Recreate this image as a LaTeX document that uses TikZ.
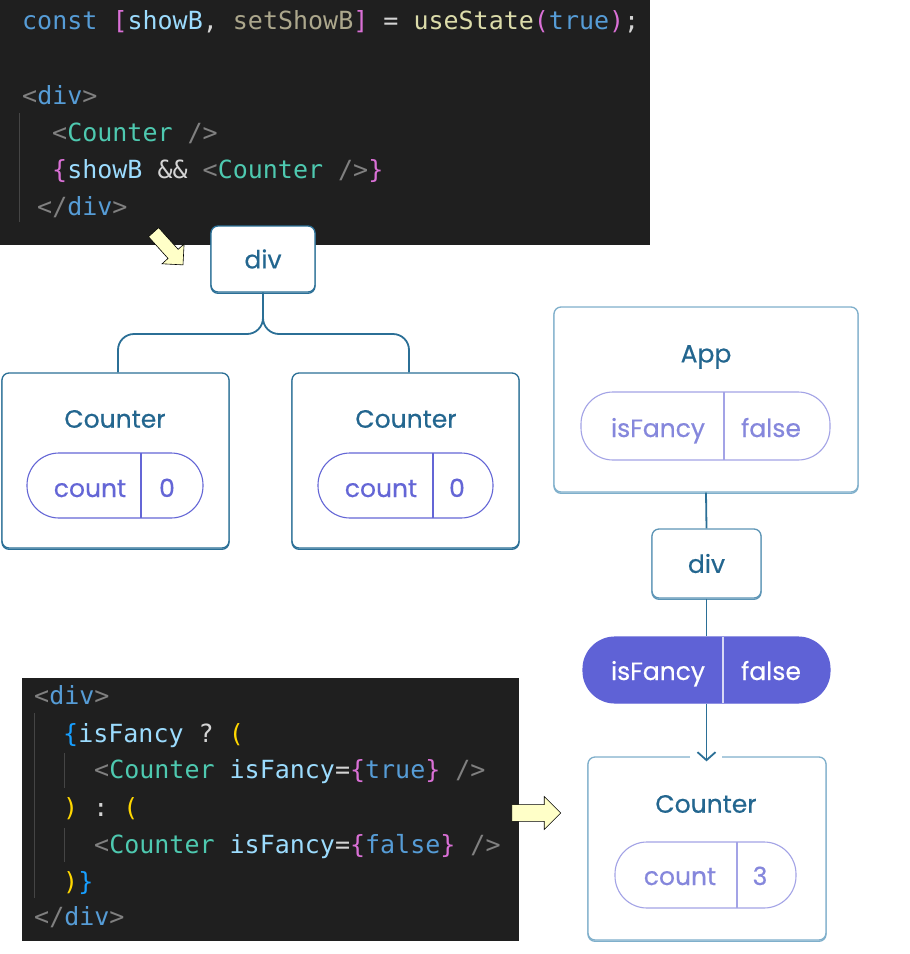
\documentclass[tikz,border=0pt]{standalone}
\usepackage{fontspec}
\setmainfont{Poppins}
\setmonofont{DejaVu Sans Mono}
\newfontfamily\diagfont{Poppins}[FakeBold=0.5]
\usetikzlibrary{arrows.meta,positioning,shapes.arrows}

\definecolor{codebg}{HTML}{1F1F1F}
\definecolor{guide}{HTML}{454545}
\definecolor{plain}{HTML}{D4D4D4}
\definecolor{kwblue}{HTML}{569CD6}
\definecolor{varblue}{HTML}{9CDCFE}
\definecolor{dimvar}{HTML}{ACA78C}
\definecolor{orchid}{HTML}{DA70D6}
\definecolor{gold}{HTML}{FFD700}
\definecolor{brblue}{HTML}{179FFF}
\definecolor{tagteal}{HTML}{4EC9B0}
\definecolor{fnyellow}{HTML}{DCDCAA}
\definecolor{punct}{HTML}{808080}
\definecolor{hint}{HTML}{FFFFC8}
\definecolor{boxblue}{HTML}{2B6F96}
\definecolor{boxpale}{HTML}{7FAFCB}
\definecolor{boxtext}{HTML}{23668F}
\definecolor{pillpurple}{HTML}{6466D6}
\definecolor{pillpale}{HTML}{A3A3E6}
\definecolor{pilltextpale}{HTML}{8587DC}
\definecolor{pillfill}{HTML}{5F62D6}

\newcommand\tk[2]{\textcolor{#1}{#2}}

\begin{document}
\begin{tikzpicture}[x=1pt,y=-1pt,
  codeline/.style={anchor=west,inner sep=0pt,text height=18pt,text depth=5pt,
    font=\ttfamily\fontsize{25}{30}\selectfont,text=plain},
  comp/.style={draw=#1,fill=white,line width=1.3pt,rounded corners=7pt,inner sep=0pt,
    preaction={draw=#1,line width=1.3pt,transform canvas={yshift=-1.3pt}}},
  comp/.default=boxblue,
  title/.style={text=boxtext,font=\diagfont\fontsize{25}{30}\selectfont,inner sep=0pt},
  pill/.style={draw=#1,line width=1.1pt,rounded corners=32pt,inner sep=0pt},
  pill/.default=pillpurple,
  pilltext/.style={text=#1,font=\diagfont\fontsize{25}{30}\selectfont,inner sep=0pt,
    text height=18pt,text depth=6pt},
  pilltext/.default=pillpurple,
  wire/.style={draw=boxblue,line width=1.8pt},
  hintarrow/.style={shape=single arrow,draw=black,fill=hint,line width=0.6pt,
    inner sep=0pt,single arrow head extend=8pt}]
\useasboundingbox (0,0) rectangle (910,954);

% top code panel
\fill[codebg] (0,0) rectangle (650,245);
\draw[guide,line width=1pt] (19,113) -- (19,222);
\node[codeline] (topA) at (22,23) {\tk{kwblue}{const} \tk{orchid}{[}\tk{varblue}{showB}, \tk{dimvar}{setShowB}\tk{orchid}{]} = \tk{fnyellow}{useState}\tk{orchid}{(}\tk{kwblue}{true}\tk{orchid}{)};};
\node[codeline] (topB) at (22,98) {\tk{punct}{<}\tk{kwblue}{div}\tk{punct}{>}};
\node[codeline] (topC) at (52,135) {\tk{punct}{<}\tk{tagteal}{Counter} \tk{punct}{/>}};
\node[codeline] (topD) at (52,172) {\tk{orchid}{\{}\tk{varblue}{showB} \&\& \tk{punct}{<}\tk{tagteal}{Counter} \tk{punct}{/>}\tk{orchid}{\}}};
\node[codeline] (topE) at (37,209) {\tk{punct}{</}\tk{kwblue}{div}\tk{punct}{>}};

% bottom code panel
\fill[codebg] (22,678) rectangle (519,941);
\draw[guide,line width=1pt] (34,713) -- (34,898);
\draw[guide,line width=1pt] (64,753) -- (64,788);
\draw[guide,line width=1pt] (64,828) -- (64,862);
\node[codeline] (botA) at (34,698) {\tk{punct}{<}\tk{kwblue}{div}\tk{punct}{>}};
\node[codeline] (botB) at (63,736) {\tk{brblue}{\{}\tk{varblue}{isFancy} ? \tk{gold}{(}};
\node[codeline] (botC) at (94,772) {\tk{punct}{<}\tk{tagteal}{Counter} \tk{varblue}{isFancy}=\tk{orchid}{\{}\tk{kwblue}{true}\tk{orchid}{\}} \tk{punct}{/>}};
\node[codeline] (botD) at (63,810) {\tk{gold}{)} : \tk{gold}{(}};
\node[codeline] (botE) at (94,847) {\tk{punct}{<}\tk{tagteal}{Counter} \tk{varblue}{isFancy}=\tk{orchid}{\{}\tk{kwblue}{false}\tk{orchid}{\}} \tk{punct}{/>}};
\node[codeline] (botF) at (63,884) {\tk{gold}{)}\tk{brblue}{\}}};
\node[codeline] (botG) at (34,919) {\tk{punct}{</}\tk{kwblue}{div}\tk{punct}{>}};

% hint arrows
\node[hintarrow,minimum height=44pt,minimum width=28pt,rotate=-48] (hintA) at (166,246) {\rule{0pt}{13pt}};
\node[hintarrow,minimum height=49pt,minimum width=33pt] (hintB) at (532,813) {\rule{0pt}{16pt}};

% left tree
\node[comp,minimum width=104pt,minimum height=66pt] (divA) at (263,259) {};
\node[title] at (divA) {div};
\node[comp,minimum width=227pt,minimum height=175pt] (counterL) at (115.5,460.5) {};
\node[comp,minimum width=227pt,minimum height=175pt] (counterR) at (405.5,460.5) {};
\node[title] (titleL) at (115,419) {Counter};
\node[title] (titleR) at (406,419) {Counter};
\draw[wire,rounded corners=16pt] (divA.south) -- (263,334) -- (118,334) -- ([xshift=2.5pt]counterL.north);
\draw[wire,rounded corners=16pt] (divA.south) -- (263,334) -- (409,334) -- ([xshift=3.5pt]counterR.north);

\node[pill,minimum width=176pt,minimum height=65pt] (pillL) at (115,485.5) {};
\draw[pillpurple,line width=1.1pt] (141,453) -- (141,518);
\node[pilltext] at (90,491) {count};
\node[pilltext] at (167,491) {0};
\node[pill,minimum width=175pt,minimum height=65pt] (pillR) at (405.5,485.5) {};
\draw[pillpurple,line width=1.1pt] (433,453) -- (433,518);
\node[pilltext] at (381,491) {count};
\node[pilltext] at (457,491) {0};

% right tree
\node[comp=boxpale,minimum width=304pt,minimum height=185pt] (app) at (706,399.5) {};
\node[title] (appTitle) at (706,357) {App};
\node[pill=pillpale,minimum width=249pt,minimum height=68pt] (appState) at (705.5,426) {};
\draw[pillpale,line width=1.1pt] (724,392) -- (724,460);
\node[pilltext=pilltextpale] at (658,431) {isFancy};
\node[pilltext=pilltextpale] at (771,431) {false};

\node[comp=boxpale!60!boxblue,minimum width=109pt,minimum height=69pt] (divB) at (706.5,563.5) {};
\node[title] at (divB) {div};
\draw[wire] (app.south) -- (divB.north);

\node[pill=pillfill,fill=pillfill,minimum width=247pt,minimum height=66pt] (flag) at (706.5,670) {};
\draw[white!75!pillfill,line width=1.3pt] (723,637) -- (723,703);
\node[pilltext=white] at (658,674) {isFancy};
\node[pilltext=white] at (771,674) {false};
\draw[wire] (divB.south) -- (flag.north);

\node[comp=boxpale,minimum width=238pt,minimum height=183pt] (counterF) at (707,848.5) {};
\node[title] (titleF) at (706,804) {Counter};
\fill[white] (690,752) rectangle (722,761);
\draw[wire,-{Straight Barb[length=8pt,width=18pt,line width=1.8pt]}] (flag.south) -- ([yshift=-5pt]counterF.north -| flag.south);
\node[pill=pillpale,minimum width=181pt,minimum height=66pt] (counterState) at (705.5,875) {};
\draw[pillpale,line width=1.1pt] (737,842) -- (737,908);
\node[pilltext=pilltextpale] at (680,879) {count};
\node[pilltext=pilltextpale] at (760,879) {3};
\end{tikzpicture}
\end{document}
